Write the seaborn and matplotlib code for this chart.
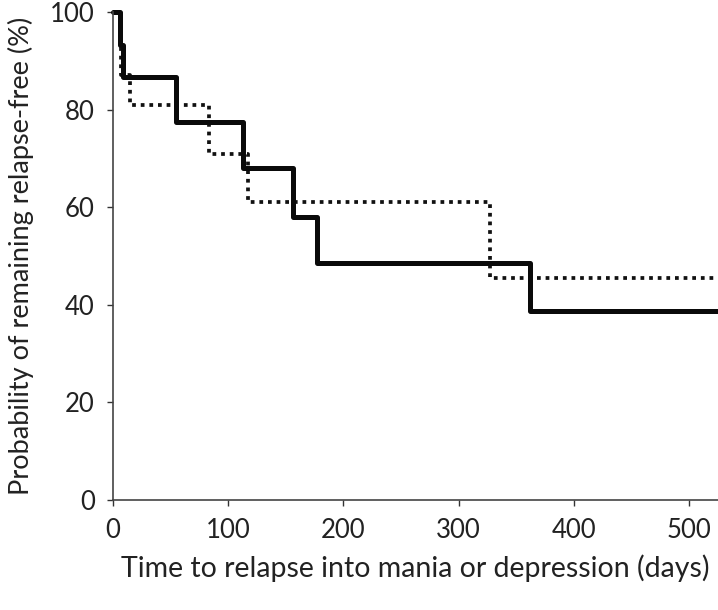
import matplotlib
matplotlib.use("Agg")
import matplotlib.pyplot as plt
import seaborn as sns
import pandas as pd

# Kaplan-Meier step data (days, % relapse-free)
solid_days = [0, 6, 9, 55, 113, 156, 177, 362, 525]
solid_surv = [100, 93.3, 86.7, 77.5, 68, 58, 48.5, 38.7, 38.7]
dotted_days = [0, 7, 15, 83, 117, 327, 525]
dotted_surv = [100, 87, 81, 71, 61, 45.5, 45.5]

x_ticks = [0, 100, 200, 300, 400, 500]
y_ticks = [0, 20, 40, 60, 80, 100]

sns.set_style("ticks")
plt.rcParams['font.family'] = ['Lato', 'DejaVu Sans']

fig = plt.figure(figsize=(7.18, 6.10), dpi=100)
ax = fig.add_axes([0.1574, 0.1803, 0.8426, 0.800])

df_d = pd.DataFrame({"days": dotted_days, "surv": dotted_surv})
df_s = pd.DataFrame({"days": solid_days, "surv": solid_surv})

sns.lineplot(data=df_d, x="days", y="surv", ax=ax, estimator=None,
             drawstyle="steps-post", color="#111111", lw=2.7,
             dashes=False, clip_on=False)
ax.lines[-1].set_linestyle((0, (1, 1.3)))
ax.lines[-1].set_dash_capstyle("butt")
sns.lineplot(data=df_s, x="days", y="surv", ax=ax, estimator=None,
             drawstyle="steps-post", color="#0a0a0a", lw=3.6,
             clip_on=False)

ax.set_xlim(0, 525)
ax.set_ylim(0, 100)
ax.set_xticks(x_ticks)
ax.set_yticks(y_ticks)
ax.tick_params(axis="both", labelsize=18.5, length=4, width=1,
               color="#333333", labelcolor="#222222", pad=9)
for s in ["left", "bottom"]:
    ax.spines[s].set_color("#444444")
    ax.spines[s].set_linewidth(1.2)
sns.despine(ax=ax, right=True, top=True)

ax.set_xlabel("Time to relapse into mania or depression (days)",
              fontsize=20.5, color="#222222", labelpad=8)
ax.set_ylabel("Probability of remaining relapse-free (%)",
              fontsize=19.5, color="#222222", labelpad=12)

fig.savefig("out.png", dpi=100, facecolor="white")
